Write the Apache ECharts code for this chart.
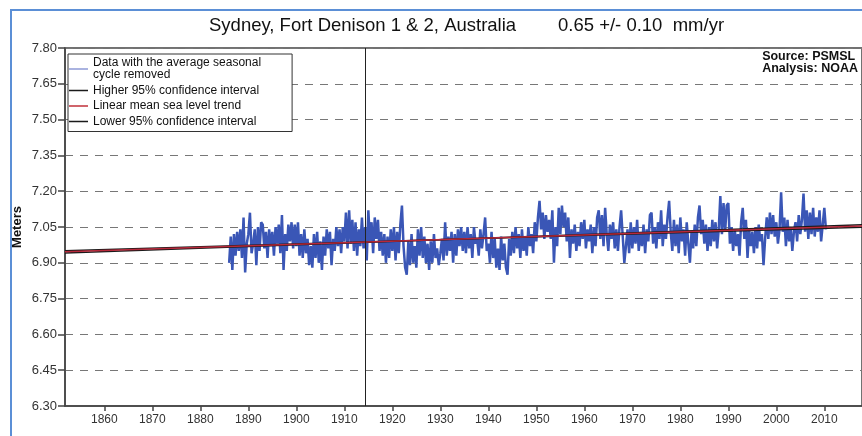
<!DOCTYPE html>
<html>
<head>
<meta charset="utf-8">
<script src="https://cdn.jsdelivr.net/npm/echarts@6/dist/echarts.min.js"></script>
<style>
  html, body { margin: 0; padding: 0; background: #fff; }
  #chart { width: 862px; height: 436px; }
</style>
</head>
<body>
<div id="chart"></div>
<script>
// monthly-ish sea level, seasonal cycle removed (3 samples per year)
const seaStartYear = 1886
const samplesPerYear = 3
const seaLevel = [
  6.90, 7.01, 6.87,  7.02, 6.93, 7.03,  6.95, 7.04, 6.92,  7.09, 6.86, 6.98,
  7.02, 7.11, 6.94,  6.98, 7.04, 6.89,  7.05, 6.95, 7.07,  7.06, 6.96, 7.03,
  6.92, 7.04, 6.97,  7.03, 6.93, 7.05,  6.98, 7.06, 6.94,  7.10, 6.87, 7.02,
  6.95, 7.06, 6.99,  7.07, 6.96, 7.06,  6.97, 7.07, 6.93,  7.02, 6.92, 7.04,
  6.94, 7.00, 6.89,  6.97, 6.88, 7.02,  6.92, 7.03, 6.90,  6.99, 6.87, 7.01,
  6.93, 7.04, 6.96,  7.03, 6.89, 7.00,  6.95, 7.05, 6.97,  7.04, 6.94, 7.05,
  6.99, 7.11, 6.96,  7.12, 6.98, 7.08,  6.95, 7.07, 6.93,  7.04, 6.97, 7.09,
  6.96, 7.05, 6.91,  7.12, 6.99, 7.07,  6.94, 7.09, 7.00,  7.08, 6.95, 7.03,
  6.93, 7.02, 6.90,  7.01, 6.92, 7.04,  6.95, 7.05, 6.91,  7.03, 6.94, 7.06,
  7.14, 6.97, 6.88,  6.85, 6.99, 6.89,  7.02, 6.90, 6.97,  6.88, 7.04, 6.93,
  7.05, 6.92, 7.01,  6.90, 6.98, 6.87,  6.99, 6.90, 7.02,  6.92, 6.96, 6.89,
  6.94, 7.00, 6.91,  7.07, 6.93, 7.01,  6.95, 7.03, 6.90,  7.02, 6.93, 7.04,
  6.97, 7.05, 6.95,  7.03, 6.94, 7.05,  6.96, 7.02, 6.92,  7.05, 6.98, 7.00,
  6.93, 7.04, 6.96,  7.02, 7.09, 6.95,  6.98, 6.90, 7.03,  6.92, 7.00, 6.88,
  6.96, 6.87, 7.01,  6.91, 6.98, 6.88,  6.85, 7.00, 6.93,  7.03, 6.94, 7.05,
  6.96, 7.02, 6.92,  7.04, 6.95, 7.01,  6.93, 7.05, 6.97,  7.02, 6.94, 7.07,
  6.99, 7.09, 7.16,  7.04, 7.11, 7.00,  7.10, 7.03, 7.08,  7.00, 7.12, 6.90,
  7.05, 6.97, 7.13,  7.02, 7.14, 7.05,  7.11, 6.99, 7.09,  6.92, 7.04, 6.98,
  7.06, 6.95, 7.03,  6.97, 7.07, 7.00,  7.08, 6.96, 7.04,  6.99, 7.06, 6.94,
  7.05, 6.97, 7.09,  7.12, 7.00, 7.10,  6.97, 7.13, 7.02,  6.95, 7.06, 7.00,
  7.07, 6.96, 7.04,  6.95, 7.05, 7.12,  7.01, 6.90, 6.97,  7.04, 6.94, 7.07,
  6.96, 7.05, 6.98,  7.08, 6.95, 7.03,  6.97, 7.06, 6.94,  7.04, 6.99, 7.10,
  7.11, 6.98, 7.05,  6.96, 7.07, 7.00,  7.12, 6.97, 7.06,  7.00, 7.09, 7.16,
  7.03, 6.95, 7.08,  6.97, 7.06, 6.94,  7.09, 6.99, 7.04,  6.93, 7.07, 6.98,
  6.90, 7.03, 6.96,  7.06, 6.97, 7.09,  7.14, 7.02, 7.08,  6.98, 7.06, 6.95,
  7.05, 6.97, 7.08,  6.99, 7.07, 6.96,  7.04, 7.18, 7.02,  7.15, 7.03, 7.14,
  7.15, 6.98, 7.05,  6.95, 7.04, 6.97,  7.02, 6.93, 7.07,  7.13, 7.00, 7.08,
  6.92, 7.04, 6.97,  7.03, 6.94, 7.05,  6.96, 7.06, 6.99,  7.02, 6.89, 7.00,
  7.09, 7.00, 7.11,  7.02, 7.10, 7.01,  7.07, 6.98, 7.04,  7.195, 7.03, 7.09,
  6.97, 7.08, 6.99,  7.05, 6.95, 7.03,  7.07, 6.99, 7.10,  7.02, 7.08, 7.19,
  7.03, 7.12, 7.00,  7.11, 7.02, 7.13,  7.01, 7.09, 7.03,  7.12, 6.99, 7.06,
  7.13, 7.04
]

// trend and 95% confidence lines, end points across the plot
const lineYears = [1851.8, 2017.85]
const trendLevel = [6.946, 7.054]
const upperLevel = [6.941, 7.059]
const lowerLevel = [6.951, 7.049]

const datumYear = 1914.3
const yearTicks = [1860, 1870, 1880, 1890, 1900, 1910, 1920, 1930, 1940, 1950, 1960, 1970, 1980, 1990, 2000, 2010]

const font = '"Liberation Sans", Arial, sans-serif'

const seaPoints = seaLevel.map((v, i) => [seaStartYear + i / samplesPerYear, v])
const pairUp = (ys) => lineYears.map((x, i) => [x, ys[i]])

const chart = echarts.init(document.getElementById('chart'), null, { renderer: 'canvas' })

chart.setOption({
  animation: false,
  backgroundColor: '#fff',
  textStyle: { fontFamily: font },
  title: [
    { text: 'Sydney, Fort Denison 1 & 2, Australia', left: 204, top: 11,
      textStyle: { fontSize: 18.5, fontWeight: 'normal', color: '#111', fontFamily: font } },
    { text: '0.65 +/- 0.10  mm/yr', left: 553, top: 11,
      textStyle: { fontSize: 18.5, fontWeight: 'normal', color: '#111', fontFamily: font } }
  ],
  grid: {
    left: 65, top: 48, right: -3, bottom: 30,
    show: true, borderColor: '#444', borderWidth: 1.5, backgroundColor: 'transparent'
  },
  legend: {
    orient: 'vertical',
    left: 68, top: 54,
    itemWidth: 19, itemHeight: 1.5, itemGap: 3.5,
    icon: 'rect',
    padding: [3, 31, 4, 1],
    borderColor: '#333', borderWidth: 1,
    backgroundColor: '#fff',
    textStyle: { fontSize: 12, lineHeight: 12, color: '#111', fontFamily: font },
    formatter: (name) => name === 'Data' ? 'Data with the average seasonal\ncycle removed' : name,
    data: ['Data', 'Higher 95% confidence interval', 'Linear mean sea level trend', 'Lower 95% confidence interval']
  },
  xAxis: {
    type: 'value',
    min: 1851.8, max: 2017.85,
    axisLine: { lineStyle: { color: '#444', width: 1.5 } },
    axisTick: { customValues: yearTicks, length: 5, lineStyle: { color: '#444', width: 1.5 } },
    axisLabel: { customValues: yearTicks, fontSize: 12, color: '#333', margin: 8, formatter: (v) => String(v) },
    splitLine: { show: false }
  },
  yAxis: {
    type: 'value',
    min: 6.30, max: 7.80, interval: 0.15,
    name: 'Meters',
    nameLocation: 'middle',
    nameGap: 41,
    nameMoveOverlap: false,
    nameTextStyle: { fontSize: 13, fontWeight: 'bold', color: '#111' },
    axisLine: { show: true, lineStyle: { color: '#444', width: 1.5 } },
    axisTick: { show: true, length: 7, lineStyle: { color: '#444', width: 1.5 } },
    axisLabel: { fontSize: 13, color: '#333', margin: 8, formatter: (v) => v.toFixed(2) },
    splitLine: { show: true, lineStyle: { color: '#777', type: [8, 7], width: 1 } }
  },
  graphic: [
    { type: 'text', right: 4, top: 50,
      style: { text: 'Source: PSMSL\nAnalysis: NOAA', fill: '#111', align: 'right', lineHeight: 12,
        font: 'bold 12.5px ' + font } },
    { type: 'line', shape: { x1: 10, y1: 10, x2: 862, y2: 10 }, style: { stroke: '#5b8fd6', lineWidth: 2 } },
    { type: 'line', shape: { x1: 11, y1: 10, x2: 11, y2: 436 }, style: { stroke: '#5b8fd6', lineWidth: 2 } }
  ],
  series: [
    {
      name: 'Data', type: 'line', data: seaPoints, showSymbol: false, z: 2,
      lineStyle: { color: '#3a56b6', width: 2.5 },
      itemStyle: { color: '#8e9ad6' },
      markLine: {
        silent: true, symbol: 'none',
        label: { show: false },
        lineStyle: { color: '#222', width: 1, type: 'solid' },
        data: [{ xAxis: datumYear }]
      }
    },
    {
      name: 'Higher 95% confidence interval', type: 'line', data: pairUp(upperLevel), showSymbol: false, z: 3,
      lineStyle: { color: '#1a1a1a', width: 1.5 }, itemStyle: { color: '#1a1a1a' }
    },
    {
      name: 'Lower 95% confidence interval', type: 'line', data: pairUp(lowerLevel), showSymbol: false, z: 3,
      lineStyle: { color: '#1a1a1a', width: 1.5 }, itemStyle: { color: '#1a1a1a' }
    },
    {
      name: 'Linear mean sea level trend', type: 'line', data: pairUp(trendLevel), showSymbol: false, z: 4,
      lineStyle: { color: '#b8283a', width: 1.5 }, itemStyle: { color: '#c0303a' }
    }
  ]
})
</script>
</body>
</html>
